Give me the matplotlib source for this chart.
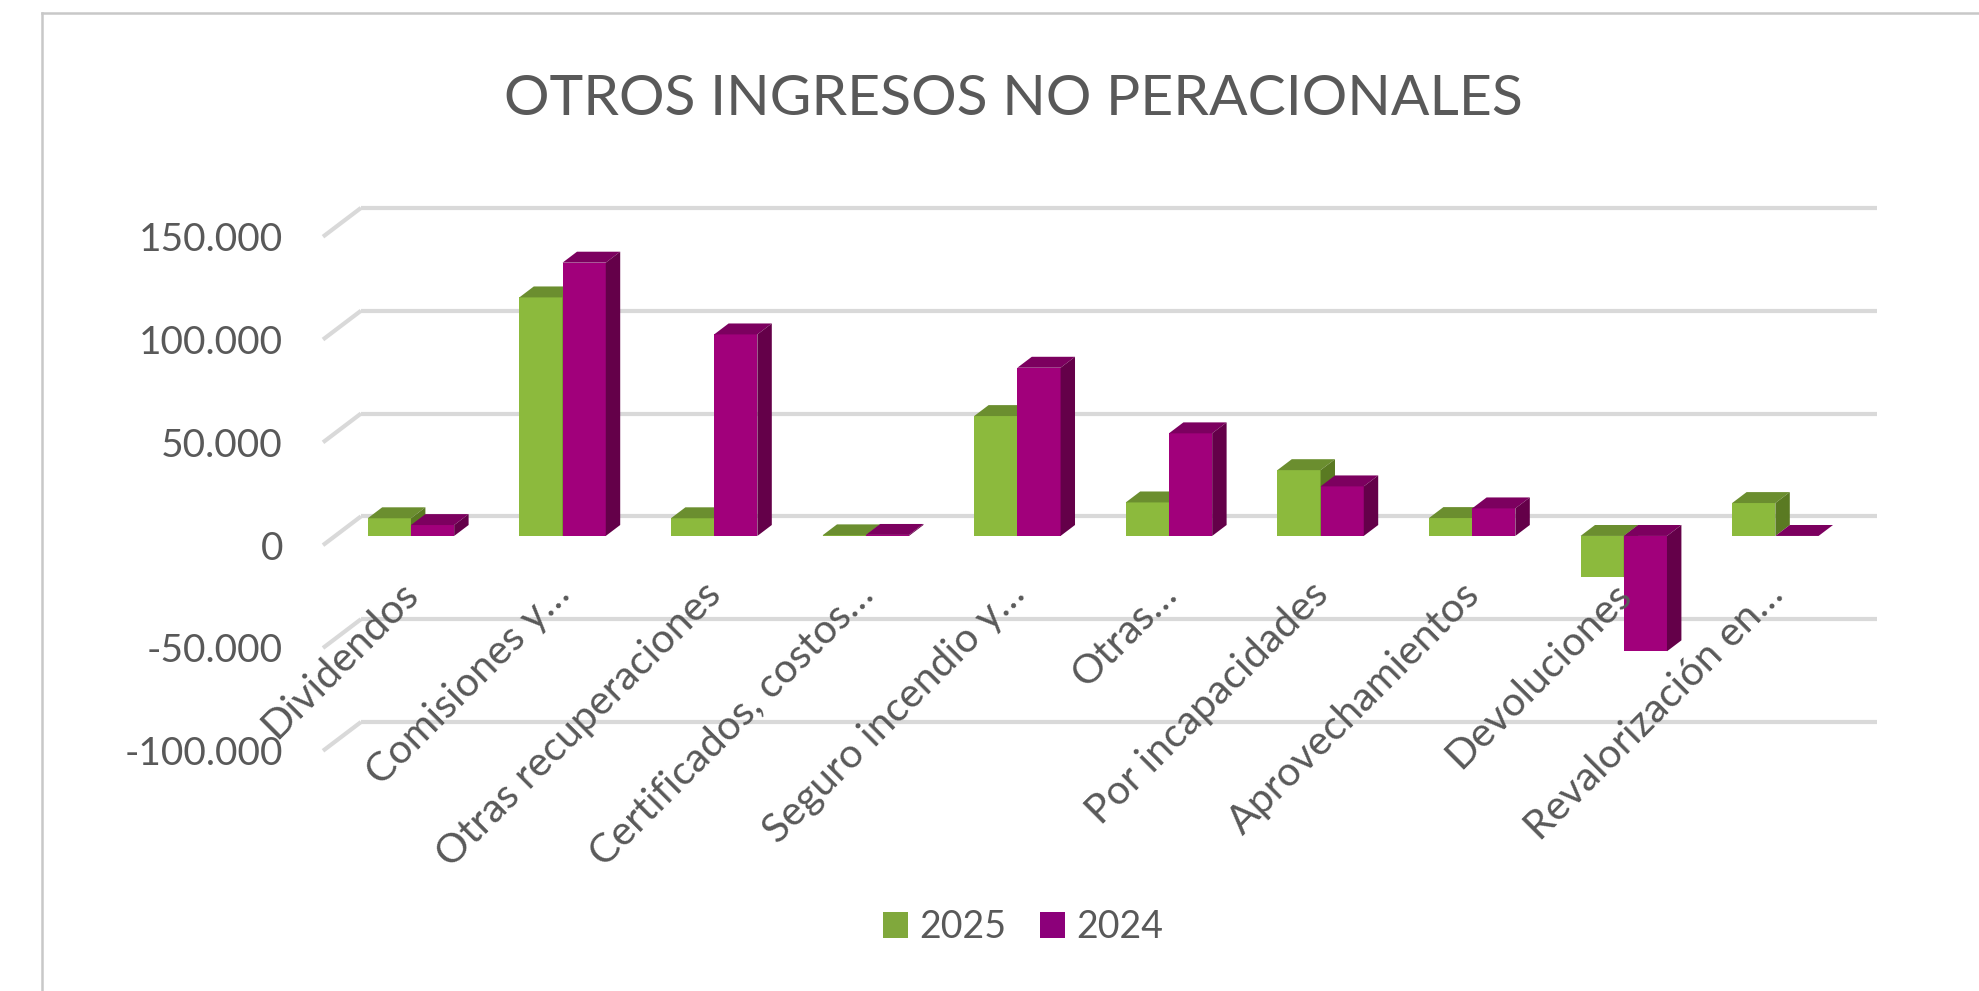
import matplotlib
matplotlib.use("Agg")
import matplotlib.pyplot as plt
from matplotlib.patches import Polygon, Patch
from matplotlib.lines import Line2D

plt.rcParams["font.family"] = ["Lato", "DejaVu Sans"]

# data
categorias = ["Dividendos", "Comisiones y…", "Otras recuperaciones",
              "Certificados, costos…", "Seguro incendio y…", "Otras…",
              "Por incapacidades", "Aprovechamientos", "Devoluciones",
              "Revalorización en…"]
v2025 = [8600, 116000, 8600, 300, 58300, 16300, 32000, 8700, -20100, 16000]
v2024 = [5300, 132900, 98000, 500, 81800, 49900, 24100, 13400, -56100, 0]
series = ["2025", "2024"]
yticks = [-100000, -50000, 0, 50000, 100000, 150000]
ytick_labels = ["-100.000", "-50.000", "0", "50.000", "100.000", "150.000"]

# colours: front, top, side, legend
green = ("#8CBA3D", "#6B8E2F", "#5A7A22", "#80A83C")
magenta = ("#A1007B", "#7C005F", "#640049", "#8C007A")
txt = "#595959"
grid_c = "#D9D9D9"

W, H = 1979, 991
fig = plt.figure(figsize=(W / 100, H / 100), dpi=100)

# axes = front plane of the 3D box
left_px, right_px = 323, 1839
top_px, bot_px = 236.7, 750.8
ax = fig.add_axes([left_px / W, 1 - bot_px / H,
                   (right_px - left_px) / W, (bot_px - top_px) / H])
ax.set_xlim(-0.5, 9.5)
ax.set_ylim(-100000, 150000)
ax.axis("off")

# depth of floor in data units (about 38 px right, 29 px up)
depth_x = 38 / ((right_px - left_px) / 10)
depth_y = 28.8 / ((bot_px - top_px) / 250000)

# back wall gridlines + left side diagonals
for yv in yticks:
    ax.plot([-0.5 + depth_x, 9.5 + depth_x], [yv + depth_y, yv + depth_y],
            color=grid_c, lw=3, solid_capstyle="butt", clip_on=False, zorder=1)
    ax.plot([-0.5, -0.5 + depth_x], [yv, yv + depth_y],
            color=grid_c, lw=3, solid_capstyle="butt", clip_on=False, zorder=1)

# y tick labels
for yv, lab in zip(yticks, ytick_labels):
    ax.text(-0.5 - 40 / 151.6, yv, lab, ha="right", va="center_baseline",
            fontsize=28, color=txt, clip_on=False)

# 3D-looking bars
bw = 0.285
f0 = 0.32   # bar front position within floor depth
fd = 0.38   # bar depth fraction
ox, oy = f0 * depth_x, f0 * depth_y
ddx, ddy = fd * depth_x, fd * depth_y


def bar3d(xl, v, cols, z):
    ax.bar(xl + ox, v, bottom=oy, width=bw, align="edge", color=cols[0],
           linewidth=0, zorder=z, clip_on=False)
    lo, hi = oy + min(v, 0), oy + max(v, 0)
    x0 = xl + ox
    top = Polygon([(x0, hi), (x0 + bw, hi), (x0 + bw + ddx, hi + ddy),
                   (x0 + ddx, hi + ddy)], closed=True, facecolor=cols[1],
                  edgecolor="none", zorder=z, clip_on=False)
    side = Polygon([(x0 + bw, lo), (x0 + bw + ddx, lo + ddy),
                    (x0 + bw + ddx, hi + ddy), (x0 + bw, hi)], closed=True,
                   facecolor=cols[2], edgecolor="none", zorder=z, clip_on=False)
    ax.add_patch(top)
    ax.add_patch(side)


for i in range(len(categorias)):
    bar3d(i - bw, v2025[i], green, 3 + i * 2)
    bar3d(i, v2024[i], magenta, 4 + i * 2)

# category labels
for i, lab in enumerate(categorias):
    ax.text(i + 0.09, -21000, lab, rotation=45, rotation_mode="anchor",
            ha="right", va="center", fontsize=29.5, color=txt, zorder=30,
            clip_on=False)

# title
fig.text(1013.5 / W, 1 - 115 / H, "OTROS INGRESOS NO PERACIONALES",
         ha="center", va="baseline", fontsize=41, color=txt)

# legend
handles = [Patch(facecolor=green[3], edgecolor="none"),
           Patch(facecolor=magenta[3], edgecolor="none")]
fig.legend(handles, series, loc="center", bbox_to_anchor=(1023.5 / W, 1 - 927 / H),
           ncol=2, frameon=False, fontsize=27, labelcolor=txt,
           handlelength=0.667, handleheight=0.667, handletextpad=0.3,
           columnspacing=0.9, borderpad=0)

# chart border (top and left visible)
fig.add_artist(Line2D([42 / W, 1], [1 - 13 / H, 1 - 13 / H], color="#C8C8C8",
                      lw=1.8, transform=fig.transFigure))
fig.add_artist(Line2D([42 / W, 42 / W], [0, 1 - 13 / H], color="#C8C8C8",
                      lw=1.8, transform=fig.transFigure))

fig.savefig("out.png", dpi=100)
